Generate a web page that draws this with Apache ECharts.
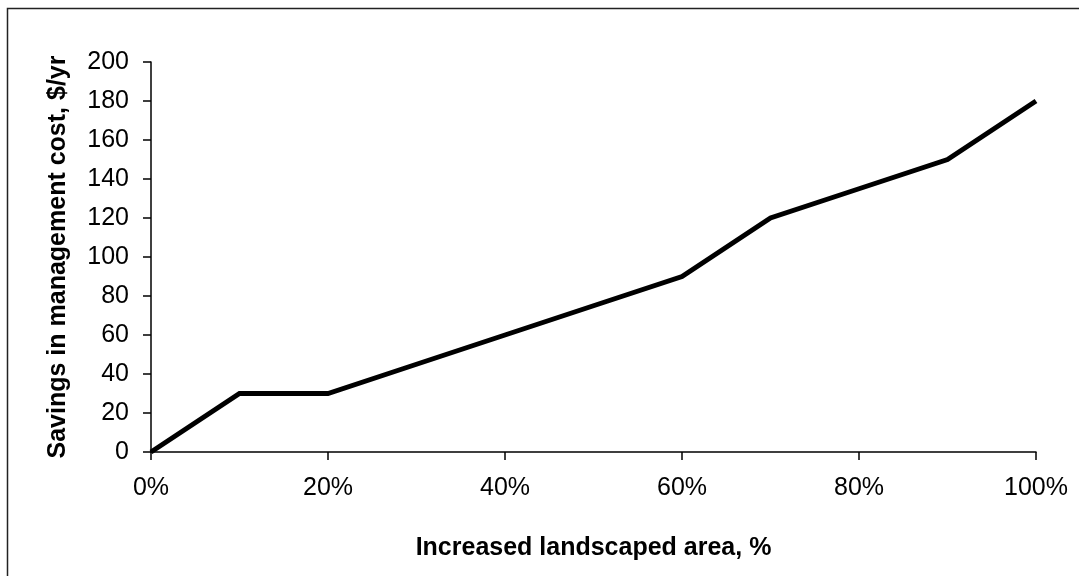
<!DOCTYPE html>
<html>
<head>
<meta charset="utf-8">
<script src="https://cdn.jsdelivr.net/npm/echarts@6/dist/echarts.min.js"></script>
<style>
  html, body { margin: 0; padding: 0; background: #fff; }
  #chart { width: 1079px; height: 576px; }
</style>
</head>
<body>
<div id="chart"></div>
<script>
// Share of landscaped area added (%) and the yearly management savings ($/yr)
const landscapedArea = [0, 10, 20, 30, 40, 50, 60, 70, 80, 90, 100];
const savings = [0, 30, 30, 45, 60, 75, 90, 120, 135, 150, 180];

const xTitle = 'Increased landscaped area, %';
const yTitle = 'Savings in management cost, $/yr';

const font = '"Liberation Sans", Arial, sans-serif';

const chart = echarts.init(document.getElementById('chart'), null, { renderer: 'canvas' });

chart.setOption({
  animation: false,
  backgroundColor: '#ffffff',
  graphic: [{
    type: 'rect',
    shape: { x: 7.5, y: 8.5, width: 1100, height: 600 },
    style: { fill: 'none', stroke: '#222', lineWidth: 1.5 },
    silent: true
  }],
  grid: { left: 151, right: 43, top: 62, bottom: 124 },
  xAxis: {
    type: 'value',
    min: 0, max: 100, interval: 20,
    name: xTitle,
    nameLocation: 'middle',
    nameGap: 84,
    nameTextStyle: { fontFamily: font, fontSize: 25, fontWeight: 'bold', color: '#000' },
    axisLine: { lineStyle: { color: '#000', width: 1.5 } },
    axisTick: { show: true, inside: false, length: 8, lineStyle: { color: '#000', width: 1.5 } },
    axisLabel: { formatter: v => v + '%', fontFamily: font, fontSize: 25, color: '#000', margin: 24 },
    splitLine: { show: false }
  },
  yAxis: {
    type: 'value',
    min: 0, max: 200, interval: 20,
    name: yTitle,
    nameLocation: 'middle',
    nameGap: 80,
    nameRotate: 90,
    nameTextStyle: { fontFamily: font, fontSize: 25, fontWeight: 'bold', color: '#000' },
    axisLine: { show: true, lineStyle: { color: '#000', width: 1.5 } },
    axisTick: { show: true, inside: false, length: 8, lineStyle: { color: '#000', width: 1.5 } },
    axisLabel: { fontFamily: font, fontSize: 25, color: '#000', margin: 22 },
    splitLine: { show: false }
  },
  series: [{
    type: 'line',
    data: landscapedArea.map((x, i) => [x, savings[i]]),
    showSymbol: false,
    lineStyle: { color: '#000', width: 5, join: 'miter' },
    clip: false
  }]
});
</script>
</body>
</html>
